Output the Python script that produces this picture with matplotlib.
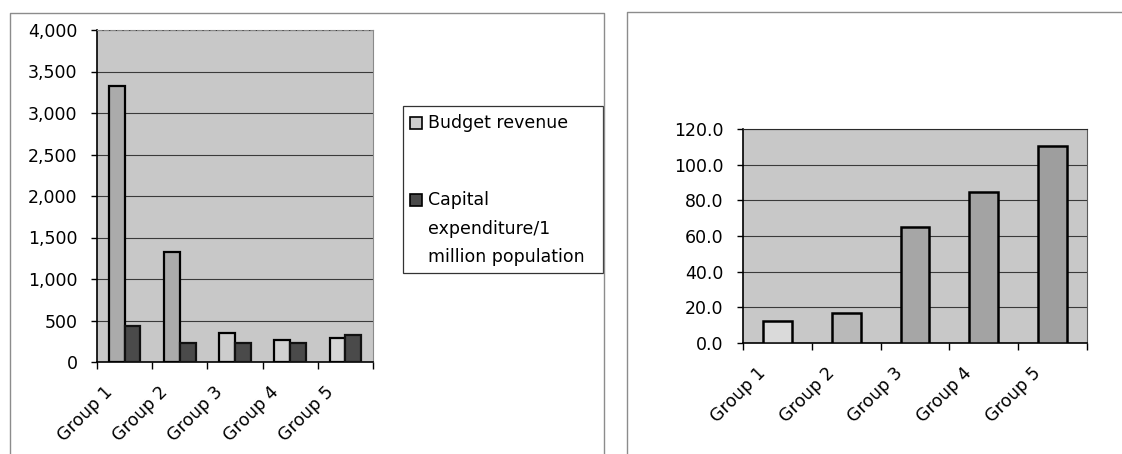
import matplotlib
matplotlib.use("Agg")
import matplotlib.pyplot as plt
import matplotlib.patches as mpatches
import matplotlib.transforms as mtransforms
from matplotlib.lines import Line2D
from matplotlib.ticker import FuncFormatter, FixedLocator
import numpy as np

# data
groups = ["Group 1", "Group 2", "Group 3", "Group 4", "Group 5"]
budget_revenue = [3330, 1320, 355, 270, 290]
capital_exp = [430, 230, 232, 232, 320]
right_values = [12.5, 16.8, 65.0, 84.8, 110.3]

budget_colors = ["#ababab", "#ababab", "#cdcdcd", "#d2d2d2", "#d6d6d6"]
capital_color = "#4a4a4a"
right_colors = ["#dadada", "#b9b9b9", "#a6a6a6", "#a3a3a3", "#9e9e9e"]

W, H = 1122, 454
FS = 12.5
plt.rcParams["font.family"] = ["DejaVu Sans"]


def fx(x):
    return x / W


def fy(y):
    return 1 - y / H


def style_axes(ax, ymax, step, fmt):
    ax.set_facecolor("#c8c8c8")
    ax.set_xlim(-0.5, len(groups) - 0.5)
    ax.set_ylim(0, ymax)
    ax.set_yticks(np.arange(0, ymax + step / 2, step))
    ax.yaxis.set_major_formatter(FuncFormatter(fmt))
    ax.set_xticks(range(len(groups)))
    ax.set_xticklabels(groups, rotation=45, ha="right", va="top",
                       rotation_mode="anchor", fontsize=FS)
    ax.xaxis.set_minor_locator(FixedLocator(np.arange(-0.5, len(groups), 1.0)))
    ax.tick_params(axis="x", which="major", length=0, pad=15)
    ax.tick_params(axis="x", which="minor", length=5, width=1, direction="out")
    ax.tick_params(axis="y", length=4, width=1, direction="out", pad=10,
                   labelsize=FS)
    # Excel puts the label end a bit left of the category centre
    shift = mtransforms.ScaledTranslation(-21 / 100, 0, fig.dpi_scale_trans)
    for lbl in ax.xaxis.get_majorticklabels():
        lbl.set_transform(lbl.get_transform() + shift)
    ax.grid(axis="y", color="#3a3a3a", linewidth=0.8)
    ax.set_axisbelow(True)
    for side in ["left", "bottom"]:
        ax.spines[side].set_color("black")
        ax.spines[side].set_linewidth(1.2)


fig = plt.figure(figsize=(W / 100, H / 100), dpi=100)

# left chart
ax1 = fig.add_axes([fx(97), fy(362), fx(373) - fx(97), fy(30) - fy(362)])
style_axes(ax1, 4000, 500, lambda v, p: f"{v:,.0f}")
x = np.arange(len(groups))
bw = 0.286
ax1.bar(x - bw / 2, budget_revenue, bw, color=budget_colors,
        edgecolor="black", linewidth=1.6, zorder=3)
ax1.bar(x + bw / 2, capital_exp, bw, color=capital_color,
        edgecolor="#111111", linewidth=1.6, zorder=3)
ax1.spines["top"].set_color("#8a8a8a")
ax1.spines["top"].set_linestyle((0, (4, 2)))
ax1.spines["right"].set_color("#8a8a8a")

# right chart
ax2 = fig.add_axes([fx(743), fy(343), fx(1087) - fx(743), fy(129) - fy(343)])
style_axes(ax2, 120, 20, lambda v, p: f"{v:.1f}")
ax2.bar(x, right_values, 0.42, color=right_colors,
        edgecolor="black", linewidth=1.8, zorder=3)
ax2.spines["top"].set_color("#2a2a2a")
ax2.spines["right"].set_color("#5a5a5a")

# legend of the left chart, Excel style: marker next to the first line
fig.patches.append(mpatches.Rectangle((fx(403), fy(273)), fx(603) - fx(403),
                                      fy(106) - fy(273), transform=fig.transFigure,
                                      facecolor="white", edgecolor="#333333",
                                      linewidth=0.9))
legend_items = [("Budget revenue", budget_colors[2], [123]),
                ("Capital\nexpenditure/1\nmillion population", capital_color,
                 [200, 228.5, 257])]
for label, color, ys in legend_items:
    fig.patches.append(mpatches.Rectangle((fx(410), fy(ys[0] + 6)), fx(12),
                                          12 / H, transform=fig.transFigure,
                                          facecolor=color, edgecolor="black",
                                          linewidth=1.2))
    for line, yy in zip(label.split("\n"), ys):
        fig.text(fx(428), fy(yy), line, fontsize=FS, ha="left", va="center")

# chart-area frames
frame = dict(color="#8c8c8c", linewidth=1.0, transform=fig.transFigure)
fig.lines.append(Line2D([fx(10), fx(10), fx(604), fx(604)],
                        [fy(454), fy(13), fy(13), fy(454)], **frame))
fig.lines.append(Line2D([fx(627), fx(627), fx(1122)],
                        [fy(454), fy(12), fy(12)], **frame))

fig.savefig("out.png", dpi=100)
